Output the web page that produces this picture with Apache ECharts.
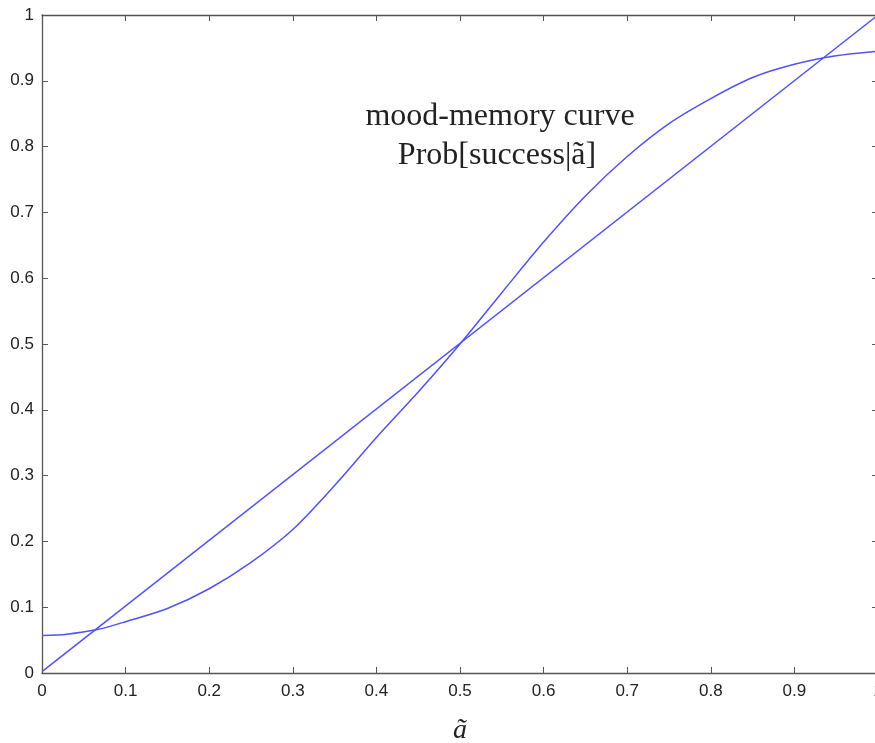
<!DOCTYPE html>
<html>
<head>
<meta charset="utf-8">
<script src="https://cdn.jsdelivr.net/npm/echarts@6/dist/echarts.min.js"></script>
<style>
  html, body { margin: 0; padding: 0; background: #fff; }
  #chart { width: 875px; height: 743px; }
</style>
</head>
<body>
<div id="chart"></div>
<script>
// mood-memory curve
const curveX = [0, 0.03, 0.066, 0.1, 0.15, 0.2, 0.25, 0.3, 0.35, 0.4, 0.45, 0.5,
  0.55, 0.6, 0.65, 0.7, 0.75, 0.8, 0.85, 0.9, 0.95, 1.0]
const curveY = [0.057, 0.059, 0.066, 0.078, 0.098, 0.128, 0.168, 0.218, 0.285, 0.358, 0.427, 0.5,
  0.578, 0.655, 0.725, 0.785, 0.835, 0.873, 0.905, 0.925, 0.938, 0.945]
// diagonal a = a
const diagX = [0, 1]
const diagY = [0.002, 1]

const tickLabels = ['0', '0.1', '0.2', '0.3', '0.4', '0.5', '0.6', '0.7', '0.8', '0.9', '1']

const lineColor = '#5252f2'
const axisColor = '#555'
const labelFont = { color: '#222', fontSize: 17, fontFamily: 'Liberation Sans, Arial, sans-serif' }

const fmt = v => tickLabels[Math.round(v * 10)] || ''

// box axis (top / right) without labels
const boxAxis = pos => ({
  type: 'value', min: 0, max: 1, interval: 0.1, position: pos,
  axisLine: { onZero: false, lineStyle: { color: axisColor, width: 1.3 } },
  axisTick: { inside: true, length: 6, lineStyle: { color: axisColor } },
  axisLabel: { show: false },
  splitLine: { show: false }
})

const chart = echarts.init(document.getElementById('chart'))
chart.setOption({
  animation: false,
  grid: { left: 42, top: 15, right: -3, bottom: 70, containLabel: false, outerBoundsMode: 'none' },
  xAxis: [
    {
      type: 'value', min: 0, max: 1, interval: 0.1, position: 'bottom',
      axisLine: { onZero: false, lineStyle: { color: axisColor, width: 1.3 } },
      axisTick: { inside: true, length: 6, lineStyle: { color: axisColor } },
      axisLabel: Object.assign({ margin: 10, formatter: fmt }, labelFont),
      splitLine: { show: false },
      name: 'ã', nameLocation: 'middle', nameGap: 44,
      nameTextStyle: { fontSize: 28, fontStyle: 'italic', fontFamily: 'Liberation Serif, serif', color: '#222' }
    },
    boxAxis('top')
  ],
  yAxis: [
    {
      type: 'value', min: 0, max: 1, interval: 0.1, position: 'left',
      axisLine: { onZero: false, lineStyle: { color: axisColor, width: 1.3 } },
      axisTick: { inside: true, length: 6, lineStyle: { color: axisColor } },
      axisLabel: Object.assign({ margin: 8, formatter: fmt }, labelFont),
      splitLine: { show: false }
    },
    boxAxis('right')
  ],
  graphic: [
    {
      type: 'text',
      style: {
        x: 500, y: 117, text: 'mood-memory curve',
        textAlign: 'center', textVerticalAlign: 'middle',
        font: '32px "Liberation Serif", serif', fill: '#222'
      }
    },
    {
      type: 'text',
      style: {
        x: 497, y: 156, text: 'Prob[success|ã]',
        textAlign: 'center', textVerticalAlign: 'middle',
        font: '32px "Liberation Serif", serif', fill: '#222'
      }
    }
  ],
  series: [
    {
      name: 'curve', type: 'line', symbol: 'none', smooth: 0.3,
      lineStyle: { color: lineColor, width: 1.5 },
      data: curveX.map((x, i) => [x, curveY[i]])
    },
    {
      name: 'diagonal', type: 'line', symbol: 'none',
      lineStyle: { color: lineColor, width: 1.5 },
      data: diagX.map((x, i) => [x, diagY[i]])
    }
  ]
})
</script>
</body>
</html>
